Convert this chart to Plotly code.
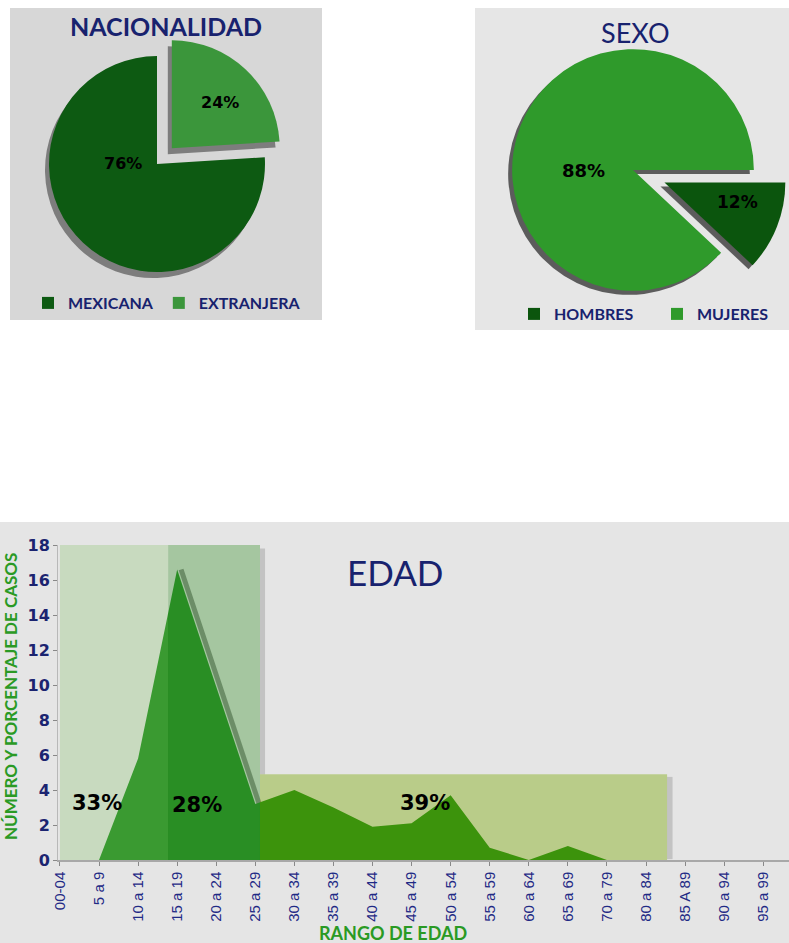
import plotly.graph_objects as go

# ---------------- data ----------------
nac_labels = ["MEXICANA", "EXTRANJERA"]
nac_values = [76, 24]

sexo_labels = ["HOMBRES", "MUJERES"]
sexo_values = [12, 88]

age_ranges = ["00-04", "5 a 9", "10 a 14", "15 a 19", "20 a 24", "25 a 29",
              "30 a 34", "35 a 39", "40 a 44", "45 a 49", "50 a 54", "55 a 59",
              "60 a 64", "65 a 69", "70 a 79", "80 a 84", "85 A 89", "90 a 94",
              "95 a 99"]
age_cases = [0, 0, 5.8, 16.6, 9.9, 3.2, 4.0, 3.0, 1.9, 2.1, 3.7, 0.7,
             0, 0.8, 0, 0, 0, 0, 0]

group_pct = ["33%", "28%", "39%"]
y_ticks = [0, 2, 4, 6, 8, 10, 12, 14, 16, 18]

# ---------------- helpers ----------------
W, H = 789, 943


def px(x):
    return x / W


def py(y):
    return 1 - y / H


NAVY = "#18226e"
GREEN_T = "#2a9a24"

fig = go.Figure()

# ---------------- pies ----------------
nac_rot = 360 * nac_values[1] / sum(nac_values)
nac_dom = dict(x=[px(27.4), px(286.6)], y=[py(293.6), py(34.4)])
nac_sh = dict(x=[px(23.4), px(282.6)], y=[py(299.6), py(40.4)])

fig.add_trace(go.Pie(labels=nac_labels, values=nac_values, domain=nac_sh,
                     sort=False, direction="counterclockwise", rotation=nac_rot,
                     pull=[0, 0.2], marker=dict(colors=["rgba(0,0,0,0.42)"] * 2),
                     textinfo="none", showlegend=False, hoverinfo="skip"))
fig.add_trace(go.Pie(labels=nac_labels, values=nac_values, domain=nac_dom,
                     sort=False, direction="counterclockwise", rotation=nac_rot,
                     pull=[0, 0.2], marker=dict(colors=["#0d5a12", "#3b963b"]),
                     textinfo="none", legend="legend"))

sexo_dom = dict(x=[px(478.3), px(787.7)], y=[py(324.7), py(15.3)])
sexo_sh = dict(x=[px(474.3), px(783.7)], y=[py(328.7), py(19.3)])
fig.add_trace(go.Pie(labels=sexo_labels, values=sexo_values, domain=sexo_sh,
                     sort=False, direction="clockwise", rotation=90,
                     pull=[0.28, 0], marker=dict(colors=["rgba(0,0,0,0.6)"] * 2),
                     textinfo="none", showlegend=False, hoverinfo="skip"))
fig.add_trace(go.Pie(labels=sexo_labels, values=sexo_values, domain=sexo_dom,
                     sort=False, direction="clockwise", rotation=90,
                     pull=[0.28, 0], marker=dict(colors=["#0b550d", "#2f9a2b"]),
                     textinfo="none", legend="legend2"))

# ---------------- age area ----------------
fig.add_trace(go.Scatter(x=age_ranges[3:6], y=age_cases[3:6], xaxis="x2", yaxis="y",
                         mode="lines", line=dict(color="rgba(0,0,0,0.42)", width=5),
                         showlegend=False, hoverinfo="skip"))
fig.add_trace(go.Scatter(x=age_ranges, y=age_cases, xaxis="x3", yaxis="y",
                         mode="lines", fill="tozeroy", fillcolor="#148614",
                         line=dict(width=0, color="#148614"), showlegend=False))

xr = [-0.05, 18.66]
fig.update_layout(
    width=W, height=H,
    margin=dict(l=0, r=0, t=0, b=0, autoexpand=False),
    paper_bgcolor="white", plot_bgcolor="rgba(0,0,0,0)",
    xaxis=dict(domain=[px(58), 1], anchor="y", type="category",
               categoryorder="array", categoryarray=age_ranges, range=xr,
               tickangle=-90, ticks="outside", ticklen=4, tickcolor="#888888",
               tickfont=dict(family="Liberation Sans", size=15, color="#1f2a85"),
               showline=True, linecolor="#a8a8a8", linewidth=1.5, automargin=False,
               showgrid=False, zeroline=False, fixedrange=True),
    xaxis2=dict(overlaying="x", type="category", categoryorder="array",
                categoryarray=age_ranges, range=[xr[0] - 0.1, xr[1] - 0.1],
                visible=False, anchor="y"),
    xaxis3=dict(overlaying="x", type="category", categoryorder="array",
                categoryarray=age_ranges, range=xr, visible=False, anchor="y"),
    yaxis=dict(domain=[py(860), py(545)], range=[0, 18], tickvals=y_ticks,
               ticks="outside", ticklen=4, tickcolor="#888888", automargin=False,
               tickfont=dict(family="DejaVu Sans", size=16, color="#1b2470",
                             weight="bold"),
               showline=True, linecolor="#b8b8b8", showgrid=False,
               zeroline=False, fixedrange=True),
    legend=dict(orientation="h", x=px(28), y=py(303), xanchor="left",
                yanchor="middle", bgcolor="rgba(0,0,0,0)",
                font=dict(family="Lato", size=16, color=NAVY, weight="bold")),
    legend2=dict(orientation="h", x=px(514), y=py(314), xanchor="left",
                 yanchor="middle", bgcolor="rgba(0,0,0,0)", entrywidth=98,
                 font=dict(family="Lato", size=16, color=NAVY, weight="bold")),
)

# ---------------- shapes ----------------
shapes = [
    dict(type="rect", xref="paper", yref="paper", x0=px(10), x1=px(322),
         y0=py(320), y1=py(8), fillcolor="#d7d7d7", line=dict(width=0), layer="below"),
    dict(type="rect", xref="paper", yref="paper", x0=px(475), x1=1,
         y0=py(330), y1=py(8), fillcolor="#e6e6e6", line=dict(width=0), layer="below"),
    dict(type="rect", xref="paper", yref="paper", x0=0, x1=1,
         y0=0, y1=py(522), fillcolor="#e5e5e5", line=dict(width=0), layer="below"),
    # group bands (tinted over the area)
    dict(type="rect", xref="x", yref="y", x0=0, x1=2.77, y0=0, y1=18,
         fillcolor="rgba(141,197,112,0.32)", line=dict(width=0), layer="above"),
    dict(type="rect", xref="x", yref="y", x0=2.77, x1=5.12, y0=0, y1=18,
         fillcolor="rgba(74,152,60,0.41)", line=dict(width=0), layer="above"),
    dict(type="rect", xref="x", yref="y", x0=5.12, x1=15.54, y0=0, y1=4.9,
         fillcolor="rgba(120,168,0,0.40)", line=dict(width=0), layer="above"),
    # band shadows
    dict(type="rect", xref="x", yref="y", x0=5.12, x1=5.25, y0=4.9, y1=17.8,
         fillcolor="rgba(0,0,0,0.15)", line=dict(width=0), layer="above"),
    dict(type="rect", xref="x", yref="y", x0=15.54, x1=15.68, y0=0.05, y1=4.75,
         fillcolor="rgba(0,0,0,0.15)", line=dict(width=0), layer="above"),
]
fig.update_layout(shapes=shapes)

# ---------------- annotations ----------------
C = dict(xanchor="center", yanchor="middle", showarrow=False)
ann = []
# titles
ann.append(dict(text="NACIONALIDAD", x=px(166), y=py(26), xref="paper", yref="paper",
                font=dict(family="Lato", size=25, color=NAVY, weight="bold"), **C))
ann.append(dict(text="SEXO", x=px(635), y=py(33), xref="paper", yref="paper",
                font=dict(family="Lato", size=27, color=NAVY), **C))
ann.append(dict(text="EDAD", x=px(395), y=py(572), xref="paper", yref="paper",
                font=dict(family="Lato", size=35, color=NAVY), **C))
ann.append(dict(text="RANGO DE EDAD", x=px(393), y=py(933), xref="paper", yref="paper",
                font=dict(family="Lato", size=18, color=GREEN_T, weight="bold"), **C))
ann.append(dict(text="NÚMERO Y PORCENTAJE DE CASOS", x=px(10), y=py(697), xref="paper",
                yref="paper", textangle=-90,
                font=dict(family="Lato", size=17, color=GREEN_T, weight="bold"), **C))

# pie percentages
pct_font = dict(family="DejaVu Sans", size=16, color="black", weight="bold")
nac_pos = [(123, 163), (220, 103)]
for v, (xx, yy) in zip(nac_values, nac_pos):
    ann.append(dict(text=f"{v}%", x=px(xx), y=py(yy), xref="paper", yref="paper",
                    font=pct_font, **C))
sexo_pos = [(737, 202), (583, 170)]
sexo_sizes = [17, 18]
for v, (xx, yy), s in zip(sexo_values, sexo_pos, sexo_sizes):
    ann.append(dict(text=f"{v}%", x=px(xx), y=py(yy), xref="paper", yref="paper",
                    font=dict(pct_font, size=s), **C))

# age group percentages
grp_pos = [(0.95, 3.26), (3.5, 3.15), (9.35, 3.26)]
for t, (xx, yy) in zip(group_pct, grp_pos):
    ann.append(dict(text=t, x=xx, y=yy, xref="x", yref="y",
                    font=dict(family="DejaVu Sans", size=21, color="black", weight="bold"),
                    **C))

fig.update_layout(annotations=ann)

fig.write_html("out.html",
               config={"displayModeBar": False},
               post_script="document.body.style.margin='0';"
                           "document.body.style.overflow='hidden';")
